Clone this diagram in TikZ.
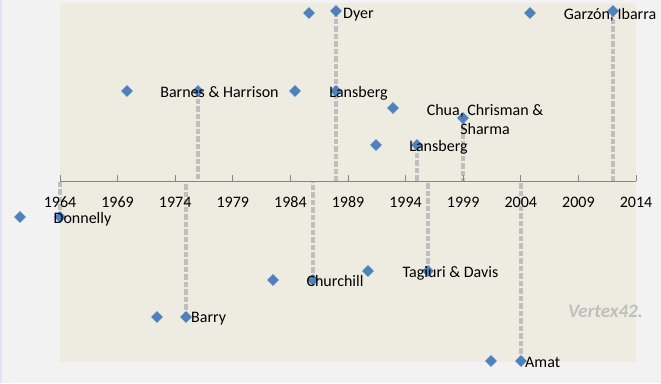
\documentclass[tikz,border=0pt]{standalone}
\usepackage{fontspec}
\setmainfont{Carlito}
\usetikzlibrary{shapes.geometric}
\pgfdeclarelayer{bg}
\pgfsetlayers{bg,main}
\definecolor{tanbg}{HTML}{EEECE1}
\definecolor{outbg}{HTML}{F2F2F2}
\definecolor{dia}{HTML}{4F81BD}
\definecolor{dropg}{HTML}{BFBFBF}
\definecolor{axg}{HTML}{868686}
\begin{document}
\begin{tikzpicture}[x=1pt,y=-1pt,line join=round,font=\fontsize{16}{19}\selectfont,
	pt/.style={diamond,fill=dia,inner sep=0pt,minimum size=12pt},
	lbl/.style={inner sep=0pt,text height=10pt,text depth=0pt},
	drop/.style={dropg,line width=4.5pt,dash pattern=on 5.5pt off 2pt},
	axis/.style={axg,line width=1pt}]
	\useasboundingbox (0,0) rectangle (661,383);
	\begin{pgfonlayer}{bg}
	\fill[outbg] (0,0) rectangle (661,383);
	\draw[blue!12,line width=1.2pt] (1,0)--(1,383);
	\fill[tanbg] (60,3) rectangle (636,362);
	\end{pgfonlayer}
	% axis and years
	\coordinate (axL) at (60,181);
	\coordinate (axR) at (636,181);
	\draw[axis] (axL)--(axR);
	\foreach \i [evaluate=\i as \yr using int(1964+5*\i)] in {0,...,10}{
		\draw[axis] (60+57.6*\i,181)--(60+57.6*\i,175);
		\node[lbl] (yr\i) at (60+57.6*\i,202) {\yr};
	}
	% events above
	\node[pt] (u1) at (127,91) {};
	\node[pt] (barnes) at (198,91) {};
	\node[pt] (u2) at (295,91) {};
	\node[pt] (u3) at (309,13) {};
	\node[pt] (dyer) at (336,11) {};
	\node[pt] (lansA) at (336,91) {};
	\node[pt] (u4) at (393,108) {};
	\node[pt] (u5) at (376,145) {};
	\node[pt] (lansB) at (417,145) {};
	\node[pt] (chua) at (463,118) {};
	\node[pt] (u6) at (530,13) {};
	\node[pt] (garzon) at (613,11) {};
	% events below
	\node[pt] (d1) at (20,217) {};
	\node[pt] (donnelly) at (60,217) {};
	\node[pt] (d2) at (157,317) {};
	\node[pt] (barry) at (186,317) {};
	\node[pt] (d3) at (273,280) {};
	\node[pt] (churchill) at (313,280) {};
	\node[pt] (d4) at (368,271) {};
	\node[pt] (tagiuri) at (428,271) {};
	\node[pt] (d5) at (491,361) {};
	\node[pt] (amat) at (521,361) {};
	\begin{pgfonlayer}{bg}
	\foreach \n in {barnes,dyer,lansB,chua,garzon,donnelly,barry,churchill,tagiuri,amat}
		\draw[drop] (\n.center)--(\n.center|-axL);
	\end{pgfonlayer}
	% labels
	\node[lbl] (barnesL) at (219.5,92) {Barnes \& Harrison};
	\node[lbl,anchor=west] (dyerL) at (343,13) {Dyer};
	\node[lbl] (lansAL) at (358.5,92) {Lansberg};
	\node[lbl] (lansBL) at (438.5,146) {Lansberg};
	\node[inner sep=0pt,align=center,anchor=north] (chuaL) at (485,104) {Chua, Chrisman \&\\Sharma};
	\node[lbl] (garzonL) at (610,14) {Garzón, Ibarra};
	\node[lbl] (donnellyL) at (82.5,218) {Donnelly};
	\node[lbl,anchor=west] (barryL) at (191,317) {Barry};
	\node[lbl] (churchillL) at (335,281) {Churchill};
	\node[lbl] (tagiuriL) at (450.5,272) {Tagiuri \& Davis};
	\node[lbl,anchor=west] (amatL) at (525,362) {Amat};
	\node[lbl,text=dropg,font=\fontsize{19}{22}\selectfont\bfseries\itshape] (wm) at (605.5,312) {Vertex42.};
\end{tikzpicture}
\end{document}
